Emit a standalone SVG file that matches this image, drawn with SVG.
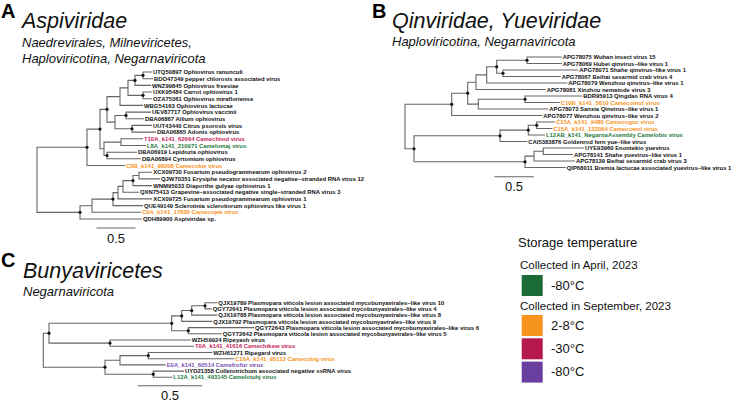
<svg xmlns="http://www.w3.org/2000/svg" width="733" height="402" viewBox="0 0 733 402">
<style>
text{font-family:"Liberation Sans",Arial,sans-serif;}
.t{font-size:5.9px;font-weight:bold;fill:#111;}
.o{fill:#f7941d;}
.p{fill:#c41e5a;}
.g{fill:#1e7b3c;}
.v{fill:#7a4fb5;}
.L{font-size:20px;font-weight:bold;fill:#000;}
.h1{font-size:21.5px;font-style:italic;fill:#111;}
.h2{font-size:13px;font-style:italic;fill:#111;}
.sc{font-size:13px;fill:#111;text-anchor:middle;}
.br{fill:none;stroke:#666;stroke-width:1.1;stroke-linecap:square;}
.lg{font-size:11.5px;fill:#111;}
.lt{font-size:13px;fill:#111;}
</style>
<rect width="733" height="402" fill="#fff"/>

<!-- Headings -->
<g id="headA">
<text class="L" x="1" y="18">A</text>
<text class="h1" x="22" y="28">Aspiviridae</text>
<text class="h2" x="22" y="46.5">Naedrevirales, Milneviricetes,</text>
<text class="h2" x="22" y="62.5">Haploviricotina, Negarnaviricota</text>
</g>
<g id="headB">
<text class="L" x="372" y="18">B</text>
<text class="h1" x="392" y="28">Qinviridae, Yueviridae</text>
<text class="h2" x="392" y="46">Haploviricotina, Negarnaviricota</text>
</g>
<g id="headC">
<text class="L" x="1" y="267">C</text>
<text class="h1" x="23" y="278">Bunyaviricetes</text>
<text class="h2" x="23" y="296">Negarnaviricota</text>
</g>

<!-- Connectors -->
<g id="connectors">
<path class="br" d="M37,147.3V212.35M37,147.3H87M37,212.35H80
M87,129.1V165.5M87,129.1H100M87,165.5H124.5
M100,109.35V148.8M100,109.35H107M100,148.8H104
M107,96.6V122.1M107,96.6H120M107,122.1H115
M120,87.9V105.4M120,87.9H128M120,105.4H142.5
M128,80.4V95.35M128,80.4H135M128,95.35H143
M135,75.35V85.4M135,75.35H143M135,85.4H150.5
M143,72V78.7M143,72H151.5M143,78.7H152.5
M143,92V98.7M143,92H151.5M143,98.7H151.5
M115,115.45V128.75M115,115.45H126M115,128.75H132
M126,112.1V118.8M126,112.1H150.5M126,118.8H143.5
M132,125.4V132.1M132,125.4H151.5M132,132.1H155.5
M104,142.15V155.5M104,142.15H121M104,155.5H107
M121,138.8V145.5M121,138.8H142.5M121,145.5H145.5
M107,152.2V158.8M107,152.2H136.5M107,158.8H140.5
M80,205.7V219M80,205.7H92M80,219H141.5
M92,199.1V212.3M92,199.1H113M92,212.3H140.5
M113,192.65V205.6M113,192.65H118M113,205.6H142.5
M118,186.4V198.9M118,186.4H123M118,198.9H151.5
M123,180.6V192.2M123,180.6H133M123,192.2H138.5
M133,175.55V185.6M133,175.55H139M133,185.6H151.5
M139,172.2V178.9M139,172.2H151.5M139,178.9H159.5"/>
<path class="br" d="M405,104.3V148.8M405,104.3H451.7M405,148.8H414
M451.7,93.2V115.5M451.7,93.2H467.7M451.7,115.5H541.8
M467.7,82.2V104.1M467.7,82.2H476M467.7,104.1H478.3
M476,74.9V89.5M476,74.9H486.7M476,89.5H545.2
M486.7,66.75V83M486.7,66.75H496.7M486.7,83H566.8
M496.7,60.25V73.25M496.7,60.25H527M496.7,73.25H503
M527,57V63.5M527,57H561.2M527,63.5H561.2
M503,70V76.5M503,70H577.8M503,76.5H560.2
M478.3,99.25V109M478.3,99.25H525M478.3,109H547.8
M525,96V102.5M525,96H581.8M525,102.5H559.2
M414,135.8V161.8M414,135.8H500M414,161.8H525
M500,130.1V141.5M500,130.1H528.3M500,141.5H526.8
M528.3,125.25V135M528.3,125.25H536.7M528.3,135H544.5
M536.7,122V128.5M536.7,122H554.5M536.7,128.5H551.8
M525,156.1V167.5M525,156.1H534M525,167.5H565.2
M534,151.25V161M534,151.25H543.3M534,161H574.5
M543.3,148V154.5M543.3,148H583.5M543.3,154.5H572.5"/>
<path class="br" d="M43.3,333.2V367.2M43.3,333.2H49M43.3,367.2H105
M49,323.3V343.1M49,323.3H171.7M49,343.1H110
M171.7,315.9V330.7M171.7,315.9H181.7M171.7,330.7H188.3
M181.7,310.5V321.4M181.7,310.5H191.7M181.7,321.4H211.8
M191.7,305.8V315.1M191.7,305.8H205M191.7,315.1H216.8
M205,302.7V308.9M205,302.7H216.8M205,308.9H211.2
M188.3,327.6V333.8M188.3,327.6H253.5M188.3,333.8H221.2
M110,340V346.2M110,340H190.2M110,346.2H193.5
M105,360.2V374.2M105,360.2H120M105,374.2H153.3
M120,355.6V364.9M120,355.6H148.3M120,364.9H165.2
M148.3,352.5V358.7M148.3,352.5H211.8M148.3,358.7H233.5
M153.3,371.1V377.3M153.3,371.1H183.5M153.3,377.3H171.8"/>
</g>

<!-- support dots -->
<g id="dots" fill="#111">
<circle cx="87" cy="147.3" r="1.6"/><circle cx="100" cy="129.1" r="1.6"/><circle cx="107" cy="109.35" r="1.6"/>
<circle cx="135" cy="80.4" r="1.6"/><circle cx="143" cy="75.35" r="1.6"/><circle cx="143" cy="95.35" r="1.6"/>
<circle cx="126" cy="115.45" r="1.6"/><circle cx="132" cy="128.75" r="1.6"/><circle cx="107" cy="155.5" r="1.6"/>
<circle cx="80" cy="212.35" r="1.6"/><circle cx="113" cy="199.1" r="1.6"/><circle cx="133" cy="180.6" r="1.6"/>
<circle cx="451.7" cy="104.3" r="1.6"/><circle cx="467.7" cy="93.2" r="1.6"/><circle cx="496.7" cy="66.75" r="1.6"/>
<circle cx="527" cy="60.25" r="1.6"/><circle cx="503" cy="73.25" r="1.6"/><circle cx="525" cy="99.25" r="1.6"/>
<circle cx="414" cy="148.8" r="1.6"/><circle cx="500" cy="135.8" r="1.6"/><circle cx="528.3" cy="130.1" r="1.6"/>
<circle cx="536.7" cy="125.25" r="1.6"/><circle cx="525" cy="161.8" r="1.6"/>
<circle cx="49" cy="333.2" r="1.6"/><circle cx="171.7" cy="323.3" r="1.6"/><circle cx="181.7" cy="315.9" r="1.6"/>
<circle cx="191.7" cy="310.5" r="1.6"/><circle cx="205" cy="305.8" r="1.6"/><circle cx="188.3" cy="330.7" r="1.6"/>
<circle cx="110" cy="343.1" r="1.6"/><circle cx="105" cy="367.2" r="1.6"/><circle cx="148.3" cy="355.6" r="1.6"/>
<circle cx="153.3" cy="374.2" r="1.6"/>
</g>

<!-- Panel A tips -->
<g id="a01"><text class="t" x="153" y="74.1">UTQ50897 Ophiovirus ranunculi</text></g>
<g id="a02"><text class="t" x="154" y="80.8">BDO47349 pepper chlorosis associated virus</text></g>
<g id="a03"><text class="t" x="152" y="87.5">WNZ99845 Ophiovirus freesiae</text></g>
<g id="a04"><text class="t" x="153" y="94.1">UXK95484 Carrot ophiovirus 1</text></g>
<g id="a05"><text class="t" x="153" y="100.8">OZA75361 Ophiovirus mirafloriense</text></g>
<g id="a06"><text class="t" x="144" y="107.5">WBG54163 Ophiovirus lactucae</text></g>
<g id="a07"><text class="t" x="152" y="114.2">UEV87717 Ophiovirus vaccinii</text></g>
<g id="a08"><text class="t" x="145" y="120.9">DBA06867 Allium ophiovirus</text></g>
<g id="a09"><text class="t" x="153" y="127.5">UUT43440 Citrus psorosis virus</text></g>
<g id="a10"><text class="t" x="157" y="134.2">DBA06865 Adonis ophiovirus</text></g>
<g id="a11"><text class="t p" x="144" y="140.9">T10A_k141_62664 Camechivul virus</text></g>
<g id="a12"><text class="t g" x="147" y="147.6">L8A_k141_210971 Camelomaj virus</text></g>
<g id="a13"><text class="t" x="138" y="154.3">DBA06919 Lepidozia ophiovirus</text></g>
<g id="a14"><text class="t" x="142" y="160.9">DBA06894 Cyrtomium ophiovirus</text></g>
<g id="a15"><text class="t o" x="126" y="167.6">C0B_k141_98208 Camecokiv virus</text></g>
<g id="a16"><text class="t" x="153.3" y="174.3">XCX09730 Fusarium pseudograminearum ophiovirus 2</text></g>
<g id="a17"><text class="t" x="161" y="181">QJW70351 Erysiphe necator associated negative–stranded RNA virus 12</text></g>
<g id="a18"><text class="t" x="153.3" y="187.7">WNM95033 Diaporthe gulyae ophiovirus 1</text></g>
<g id="a19"><text class="t" x="140" y="194.3">QXN75413 Grapevine–associated negative single–stranded RNA virus 3</text></g>
<g id="a20"><text class="t" x="153.3" y="201">XCX09725 Fusarium pseudograminearum ophiovirus 1</text></g>
<g id="a21"><text class="t" x="144" y="207.7">QUE49149 Sclerotinia sclerotiorum ophiovirus like virus 1</text></g>
<g id="a22"><text class="t o" x="142" y="214.4">C0A_k141_17830 Camecojek virus</text></g>
<g id="a23"><text class="t" x="143" y="221.1">QDH89900 Aspiviridae sp.</text></g>

<!-- Panel B tips -->
<g id="b01"><text class="t" x="562.7" y="59.1">APG78075 Wuhan insect virus 15</text></g>
<g id="b02"><text class="t" x="562.7" y="65.6">APG78069 Hubei qinvirus–like virus 1</text></g>
<g id="b03"><text class="t" x="579.3" y="72.1">APG78071 Shahe qinvirus–like virus 1</text></g>
<g id="b04"><text class="t" x="561.7" y="78.6">APG78067 Beihai sesarmid crab virus 4</text></g>
<g id="b05"><text class="t" x="568.3" y="85.1">APG78079 Wenzhou qinvirus–like virus 1</text></g>
<g id="b06"><text class="t" x="546.7" y="91.6">APG78081 Xinzhou nematode virus 3</text></g>
<g id="b07"><text class="t" x="583.3" y="98.1">BDR95913 Qingdao RNA virus 4</text></g>
<g id="b08"><text class="t o" x="560.7" y="104.6">C10B_k141_5610 Camecomuf virus</text></g>
<g id="b09"><text class="t" x="549.3" y="111.1">APG78073 Sanxia Qinvirus–like virus 1</text></g>
<g id="b10"><text class="t" x="543.3" y="117.6">APG78077 Wenzhou qinvirus–like virus 2</text></g>
<g id="b11"><text class="t o" x="556" y="124.1">C15A_k141_9480 Camecoguc virus</text></g>
<g id="b12"><text class="t o" x="553.3" y="130.6">C15A_k141_132084 Camecowol virus</text></g>
<g id="b13"><text class="t g" x="546" y="137.1">L12AB_k141_NegarnaAssembly Camelobis virus</text></g>
<g id="b14"><text class="t" x="528.3" y="143.6">CAI5383876 Goldenrod fern yue–like virus</text></g>
<g id="b15"><text class="t" x="585" y="150.1">UYE93960 Enontekio yuevirus</text></g>
<g id="b16"><text class="t" x="574" y="156.6">APG78141 Shahe yuevirus–like virus 1</text></g>
<g id="b17"><text class="t" x="576" y="163.1">APG78139 Beihai sesarmid crab virus 3</text></g>
<g id="b18"><text class="t" x="566.7" y="169.6">QIP68011 Bremia lactucae associated yuevirus–like virus 1</text></g>

<!-- Panel C tips -->
<g id="c01"><text class="t" x="218.3" y="304.8">QJX19789 Plasmopara viticola lesion associated mycobunyavirales–like virus 10</text></g>
<g id="c02"><text class="t" x="212.7" y="311">QGY72641 Plasmopara viticola lesion associated mycobunyavirales–like virus 4</text></g>
<g id="c03"><text class="t" x="218.3" y="317.2">QJX19788 Plasmopara viticola lesion associated mycobunyavirales–like virus 8</text></g>
<g id="c04"><text class="t" x="213.3" y="323.5">QJX19792 Plasmopara viticola lesion associated mycobunyavirales–like virus 9</text></g>
<g id="c05"><text class="t" x="255" y="329.7">QGY72643 Plasmopara viticola lesion associated mycobunyavirales–like virus 6</text></g>
<g id="c06"><text class="t" x="222.7" y="335.9">QGY72642 Plasmopara viticola lesion associated mycobunyavirales–like virus 5</text></g>
<g id="c07"><text class="t" x="191.7" y="342.1">WZH59924 Ripeyash virus</text></g>
<g id="c08"><text class="t p" x="195" y="348.3">T0A_k141_41616 Camechikew virus</text></g>
<g id="c09"><text class="t" x="213.3" y="354.6">WZH61271 Ripegard virus</text></g>
<g id="c10"><text class="t o" x="235" y="360.8">C10A_k141_95113 Camecobig virus</text></g>
<g id="c11"><text class="t v" x="166.7" y="367">E0A_k141_60514 Camefrofur virus</text></g>
<g id="c12"><text class="t" x="185" y="373.2">UYD21358 Colletotrichum associated negative ssRNA virus</text></g>
<g id="c13"><text class="t g" x="173.3" y="379.4">L12A_k141_493145 Camelotuhj virus</text></g>

<!-- Scale bars -->
<g id="scaleA"><path class="br" d="M97,228H135"/><text class="sc" x="116" y="243">0.5</text></g>
<g id="scaleB"><path class="br" d="M495,176.7H533.3"/><text class="sc" x="514" y="191">0.5</text></g>
<g id="scaleC"><path class="br" d="M138.3,385.7H201.7"/><text class="sc" x="170" y="400">0.5</text></g>

<!-- Legend -->
<g id="legend">
<text class="lt" x="518" y="247">Storage temperature</text>
<text class="lg" x="520" y="269">Collected in April, 2023</text>
<rect x="521.7" y="275" width="21" height="21" fill="#1a6b36"/>
<text class="lt" x="551" y="290">-80°C</text>
<text class="lg" x="520" y="309.5">Collected in September, 2023</text>
<rect x="521.7" y="315" width="21" height="21" fill="#f7941d"/>
<text class="lt" x="551" y="330">2-8°C</text>
<rect x="521.7" y="338.3" width="21" height="21" fill="#b5174f"/>
<text class="lt" x="551" y="353">-30°C</text>
<rect x="521.7" y="361.6" width="21" height="21" fill="#6b3fa0"/>
<text class="lt" x="551" y="376">-80°C</text>
</g>
</svg>
